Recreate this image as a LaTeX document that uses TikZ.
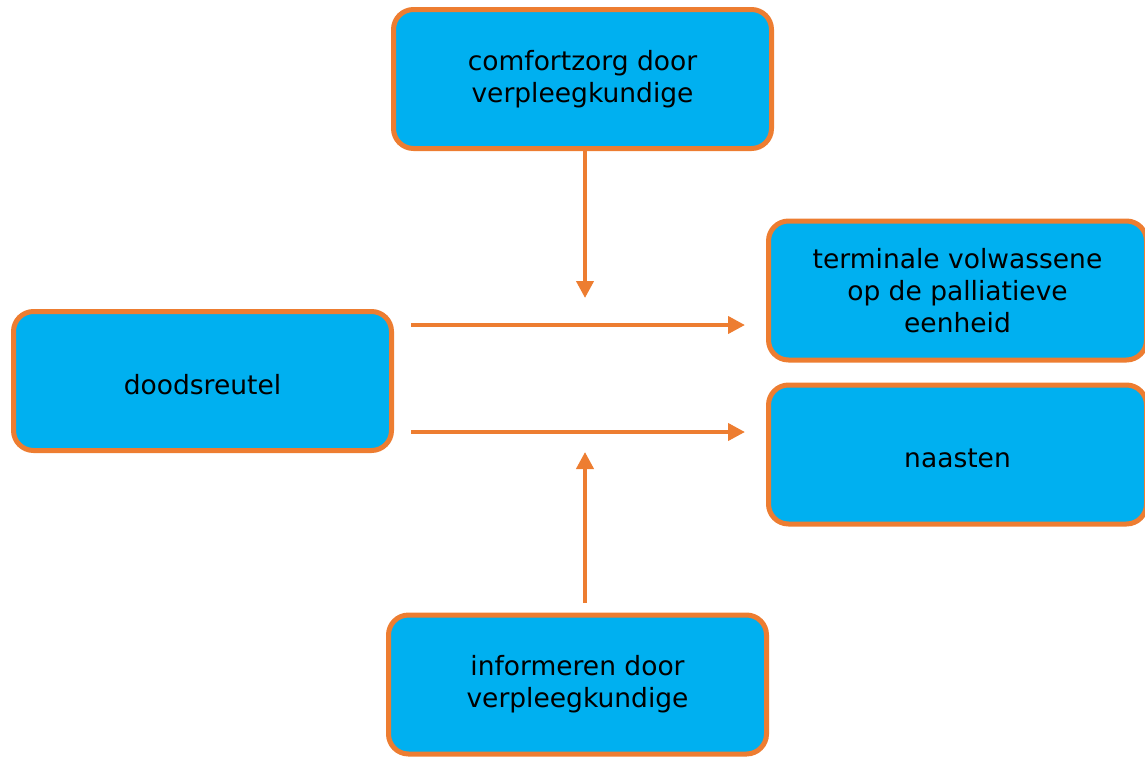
\documentclass[tikz,border=0pt]{standalone}
\usepackage{fontspec}
\setmainfont{DejaVu Sans}
\usetikzlibrary{arrows.meta}
\definecolor{boxfill}{RGB}{0,176,240}
\definecolor{boxline}{RGB}{237,125,49}
\begin{document}
\begin{tikzpicture}[x=1pt,y=-1pt,
  box/.style={draw=boxline, line width=5pt, fill=boxfill, rounded corners=20pt,
    minimum width=378pt, minimum height=139pt, align=center, inner sep=0pt,
    font=\fontsize{26.5}{32}\selectfont, text=black,
    execute at begin node={\rule{0pt}{27pt}}},
  conn/.style={draw=boxline, line width=4pt, -{Triangle[length=17pt,width=17pt]}}]
\useasboundingbox (0,0) rectangle (1145,758);
\node[box] (top) at (582.5,79) {comfortzorg door\\verpleegkundige};
\node[box] (left) at (202.5,381) {doodsreutel};
\node[box] (rt) at (957.5,290.5) {terminale volwassene\\op de palliatieve\\eenheid};
\node[box] (rb) at (957.5,454.5) {naasten};
\node[box] (bot) at (577.5,684.5) {informeren door\\verpleegkundige};
\coordinate (a1s) at (411,325);
\coordinate (a1e) at (745,325);
\coordinate (a2s) at (411,432);
\coordinate (a2e) at (745,432);
\coordinate (vd) at (585,298);
\coordinate (vus) at (585,603);
\coordinate (vue) at (585,452);
\draw[conn] (a1s) -- (a1e);
\draw[conn] (a2s) -- (a2e);
\draw[conn] (top.south -| vd) -- (vd);
\draw[conn] (vus) -- (vue);
\end{tikzpicture}
\end{document}
